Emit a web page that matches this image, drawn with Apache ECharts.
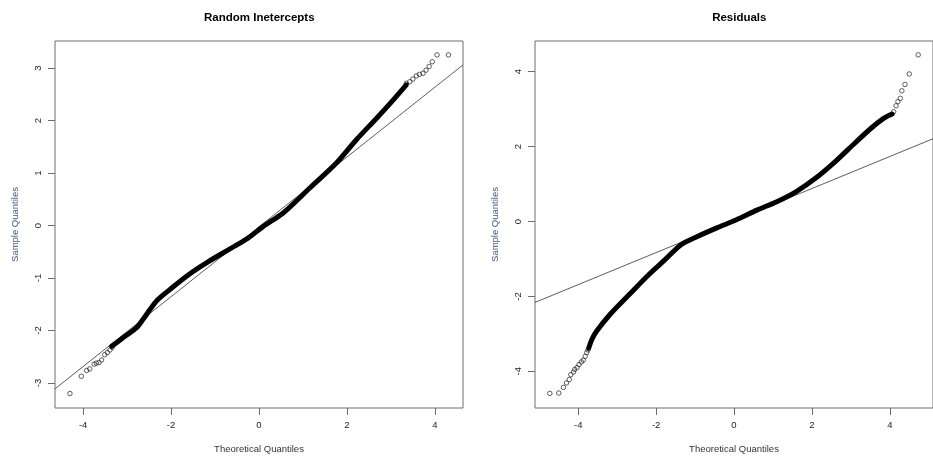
<!DOCTYPE html>
<html>
<head>
<meta charset="utf-8">
<script src="https://cdn.jsdelivr.net/npm/echarts@6/dist/echarts.min.js"></script>
<style>
  html, body { margin: 0; padding: 0; background: #fff; }
  #chart { width: 933px; height: 459px; }
</style>
</head>
<body>
<div id="chart"></div>
<script>
// Normal Q-Q plots: random intercepts (left) and residuals (right).
// Each panel: sparse tail points drawn as open circles, the dense body of
// points drawn as a thick band, and the reference (qqline) line.

const panelTitles = ['Random Inetercepts', 'Residuals'];
const xTicks = [-4, -2, 0, 2, 4];
const yTicksLeft = [-3, -2, -1, 0, 1, 2, 3];
const yTicksRight = [-4, -2, 0, 2, 4];

// --- Random intercepts ---
const riLowTail = [
  [-4.30, -3.20], [-4.04, -2.87], [-3.92, -2.76], [-3.85, -2.73],
  [-3.75, -2.64], [-3.70, -2.62], [-3.64, -2.61], [-3.58, -2.56],
  [-3.51, -2.46], [-3.45, -2.42], [-3.39, -2.37], [-3.34, -2.32]
];
const riBody = [
  [-3.35, -2.30], [-3.05, -2.11], [-2.79, -1.95], [-2.64, -1.79],
  [-2.48, -1.60], [-2.30, -1.41], [-2.03, -1.22], [-1.61, -0.94],
  [-1.16, -0.69], [-0.63, -0.43], [-0.25, -0.24], [0.09, -0.02],
  [0.55, 0.24], [1.15, 0.71], [1.76, 1.19], [2.21, 1.63],
  [2.67, 2.04], [3.05, 2.39], [3.35, 2.68]
];
const riHighTail = [
  [3.35, 2.71], [3.43, 2.74], [3.50, 2.79], [3.58, 2.85], [3.65, 2.88],
  [3.73, 2.90], [3.80, 2.96], [3.87, 3.03], [3.94, 3.12], [4.05, 3.25],
  [4.31, 3.25]
];
const riLine = [[-4.64, -3.11], [4.64, 3.06]];

// --- Residuals ---
const resLowTail = [
  [-4.73, -4.59], [-4.50, -4.58], [-4.38, -4.43], [-4.30, -4.31],
  [-4.23, -4.22], [-4.19, -4.09], [-4.12, -4.02], [-4.09, -3.95],
  [-4.03, -3.90], [-3.98, -3.82], [-3.92, -3.75], [-3.87, -3.70],
  [-3.82, -3.60], [-3.78, -3.50], [-3.75, -3.43]
];
const resBody = [
  [-3.73, -3.38], [-3.65, -3.15], [-3.53, -2.93], [-3.19, -2.49],
  [-2.69, -1.95], [-2.19, -1.42], [-1.77, -1.02], [-1.36, -0.62],
  [-0.94, -0.40], [-0.44, -0.17], [0.05, 0.04], [0.60, 0.31],
  [1.10, 0.53], [1.60, 0.80], [2.10, 1.16], [2.60, 1.60],
  [3.10, 2.09], [3.52, 2.49], [3.85, 2.76], [4.06, 2.87]
];
const resHighTail = [
  [4.10, 2.93], [4.16, 3.09], [4.21, 3.20], [4.27, 3.29], [4.31, 3.49],
  [4.39, 3.66], [4.50, 3.94], [4.73, 4.45]
];
const resLine = [[-5.11, -2.16], [5.11, 2.21]];

const FONT = '"Liberation Sans", Arial, sans-serif';
const AXIS_GRAY = '#6e6e6e';

function xAxisFor(idx, min, max) {
  return {
    type: 'value', gridIndex: idx, min: min, max: max,
    splitLine: { show: false },
    axisLine: { show: false, onZero: false },
    axisTick: { show: true, length: 7, lineStyle: { color: AXIS_GRAY, width: 1 }, customValues: xTicks },
    axisLabel: { show: true, margin: 12, fontSize: 9.5, fontFamily: FONT, color: '#222', customValues: xTicks },
    name: 'Theoretical Quantiles', nameLocation: 'middle', nameGap: 36,
    nameTextStyle: { fontSize: 9.5, fontFamily: FONT, color: '#333' }
  };
}
function yAxisFor(idx, min, max, ticks) {
  return {
    type: 'value', gridIndex: idx, min: min, max: max,
    splitLine: { show: false },
    axisLine: { show: false, onZero: false },
    axisTick: { show: true, length: 7, lineStyle: { color: AXIS_GRAY, width: 1 }, customValues: ticks },
    axisLabel: { show: true, rotate: 90, margin: 12, fontSize: 9.5, fontFamily: FONT, color: '#222', customValues: ticks },
    name: 'Sample Quantiles', nameLocation: 'middle', nameGap: 35,
    nameTextStyle: { fontSize: 9.5, fontFamily: FONT, color: '#3d5a87' }
  };
}

function tail(data, idx) {
  return {
    type: 'scatter', xAxisIndex: idx, yAxisIndex: idx, data: data,
    symbol: 'circle', symbolSize: 4.5, silent: true,
    itemStyle: { color: 'rgba(0,0,0,0)', borderColor: '#222', borderWidth: 0.9 }
  };
}
function body(data, idx) {
  return {
    type: 'line', xAxisIndex: idx, yAxisIndex: idx, data: data,
    showSymbol: false, smooth: 0.3, silent: true,
    lineStyle: { color: '#000', width: 5, cap: 'round', join: 'round' }
  };
}
function refLine(data, idx) {
  return {
    type: 'line', xAxisIndex: idx, yAxisIndex: idx, data: data,
    showSymbol: false, silent: true, clip: true,
    lineStyle: { color: '#333', width: 0.8 }
  };
}

const chart = echarts.init(document.getElementById('chart'), null, { renderer: 'canvas' });
chart.setOption({
  animation: false,
  backgroundColor: '#fff',
  textStyle: { fontFamily: FONT },
  grid: [
    { left: 55, top: 41, width: 408, height: 367, show: true, borderColor: AXIS_GRAY, borderWidth: 1, backgroundColor: 'transparent' },
    { left: 535, top: 41, width: 408.6, height: 367, show: true, borderColor: AXIS_GRAY, borderWidth: 1, backgroundColor: 'transparent' }
  ],
  xAxis: [xAxisFor(0, -4.64, 4.64), xAxisFor(1, -5.11, 5.11)],
  yAxis: [yAxisFor(0, -3.475, 3.515, yTicksLeft), yAxisFor(1, -4.98, 4.82, yTicksRight)],
  graphic: [
    { type: 'text', x: 259.3, y: 18, style: { text: panelTitles[0], fontSize: 11.5, fontWeight: 'bold', fontFamily: FONT, fill: '#000', align: 'center', verticalAlign: 'middle' } },
    { type: 'text', x: 739.3, y: 18, style: { text: panelTitles[1], fontSize: 11.5, fontWeight: 'bold', fontFamily: FONT, fill: '#000', align: 'center', verticalAlign: 'middle' } }
  ],
  series: [
    refLine(riLine, 0), body(riBody, 0), tail(riLowTail, 0), tail(riHighTail, 0),
    refLine(resLine, 1), body(resBody, 1), tail(resLowTail, 1), tail(resHighTail, 1)
  ]
});
</script>
</body>
</html>
